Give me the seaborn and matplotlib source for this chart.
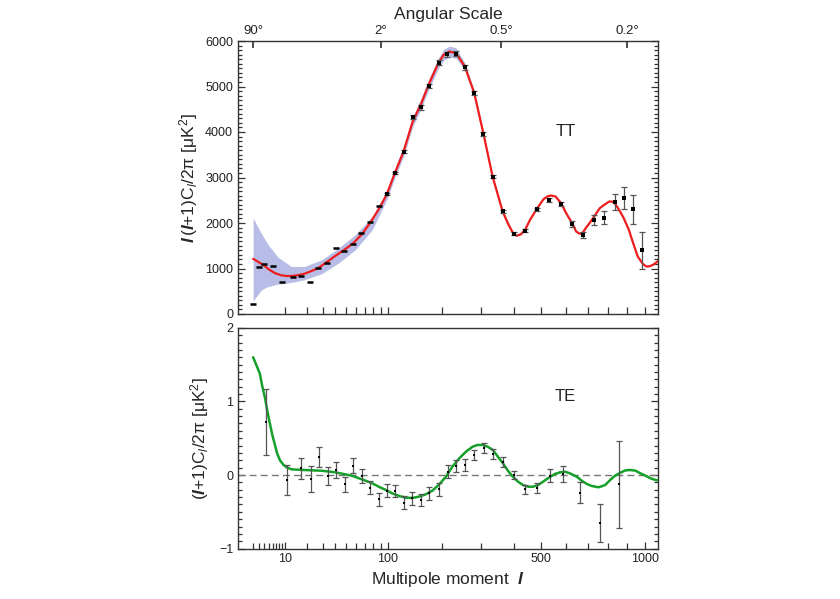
import numpy as np
import matplotlib
matplotlib.use("Agg")
import matplotlib.pyplot as plt
from matplotlib.ticker import FixedLocator, NullFormatter, MultipleLocator
import seaborn as sns
import pandas as pd

# ---------------- data ----------------
# TT model curve
tt_model_l = [2, 3, 4, 5, 6.6, 8.6, 10.5, 12.4, 15, 18.5, 22, 27, 33, 40, 48, 57, 66.8, 76,
              87.6, 98.5, 111, 125, 141, 157, 173, 192, 204, 217, 233, 255, 280, 306, 333,
              364, 383, 400, 410, 425, 440, 458, 482, 509, 525, 539, 557, 580, 598, 613, 628,
              646, 660, 673, 690, 710, 730, 758, 780, 806, 820, 833, 857, 882, 910, 931, 960,
              990, 1010, 1030, 1050, 1100]
tt_model_d = [1213, 1130, 1059, 980, 899, 850, 835, 835, 850, 883, 934, 1009, 1141, 1279, 1411,
              1558, 1763, 1998, 2305, 2620, 3097, 3565, 4226, 4627, 5073, 5510, 5697, 5769,
              5733, 5440, 4855, 3954, 3015, 2253, 1960, 1755, 1719, 1750, 1850, 2070, 2300,
              2525, 2585, 2604, 2582, 2440, 2253, 2120, 2000, 1813, 1770, 1763, 1888, 2010,
              2143, 2327, 2400, 2473, 2470, 2437, 2290, 2108, 1851, 1594, 1264, 1097, 1044,
              1050, 1081, 1213]

# cosmic-variance band
band_l = [2, 2.5, 3.4, 4.8, 7.5, 12.4, 18.5, 29.3, 42.6, 59, 79, 99.8, 111, 125, 141, 157,
          173, 192, 204, 217, 233, 255, 280, 306, 333, 364, 400]
band_hi = [2108, 1970, 1765, 1525, 1250, 1044, 1044, 1191, 1448, 1741, 2143, 2730, 3200, 3675,
           4340, 4740, 5190, 5625, 5815, 5890, 5850, 5520, 4915, 4004, 3055, 2288, 1785]
band_lo = [290, 385, 532, 604, 657, 692, 752, 884, 1119, 1411, 1851, 2547, 2995, 3455, 4115,
           4517, 4960, 5395, 5580, 5650, 5620, 5360, 4795, 3904, 2975, 2218, 1725]

# TT measurements, low multipoles (no bars)
tt_low_l = [2, 3, 4, 6, 9, 12.9, 16.9, 22, 27.1, 33.1, 40.4, 48, 56.3, 65.4, 76.2, 87.6]
tt_low_d = [218, 1031, 1097, 1059, 714, 811, 840, 714, 1009, 1125, 1440, 1382, 1536, 1778,
            2011, 2363]
# TT measurements with error bars
tt_l = [98.5, 111, 125.4, 141.2, 156.8, 173.4, 192.5, 212, 233, 254.6, 279.7, 305.9, 333.5,
        364, 400.3, 439, 482, 529, 580, 628, 678, 730, 780, 833, 882, 931, 983]
tt_d = [2635, 3097, 3565, 4334, 4539, 5015, 5527, 5712, 5725, 5418, 4855, 3954, 3015, 2253,
        1769, 1835, 2297, 2503, 2415, 1976, 1741, 2070, 2114, 2459, 2547, 2297, 1396]
tt_err = [30, 30, 35, 40, 45, 50, 55, 55, 55, 50, 45, 40, 35, 30, 30, 30, 35, 40, 45, 73, 60,
          103, 139, 180, 242, 315, 413]

# TE model curve
te_model_l = [2, 2.5, 3.07, 3.5, 4.07, 4.6, 5.25, 5.9, 6.6, 7.3, 8.15, 9.3, 10.5, 12.4, 18.5,
              29.3, 39.8, 55.6, 70.5, 79, 87.6, 97.6, 106.9, 118, 128.8, 140, 152.9, 166,
              179.6, 194, 209, 224, 241, 258, 275.7, 289, 303.7, 318, 333.5, 349, 365, 381,
              397.6, 415, 432.6, 451, 469, 488, 507, 526, 554.5, 576, 596.8, 618, 648.6, 671,
              695, 718, 751.8, 785, 810, 836, 863.6, 891, 918.6, 947, 975, 1005, 1035, 1066,
              1100]
te_model_v = [1.60, 1.49, 1.38, 1.22, 1.06, 0.88, 0.70, 0.54, 0.41, 0.29, 0.20, 0.14, 0.105,
              0.077, 0.068, 0.058, 0.037, -0.01, -0.077, -0.113, -0.16, -0.204, -0.249, -0.285,
              -0.308, -0.312, -0.294, -0.262, -0.213, -0.127, -0.023, 0.113, 0.227, 0.317,
              0.385, 0.408, 0.408, 0.385, 0.34, 0.249, 0.159, 0.058, -0.023, -0.091, -0.136,
              -0.159, -0.159, -0.136, -0.091, -0.045, 0.014, 0.036, 0.045, 0.023, -0.023,
              -0.077, -0.122, -0.149, -0.167, -0.136, -0.068, -0.009, 0.031, 0.063, 0.068,
              0.059, 0.023, -0.009, -0.045, -0.068, -0.077]

# TE measurements
te_l = [4.44, 10.5, 17, 22.4, 27.7, 33.8, 40.6, 49, 57, 66.8, 76.7, 87.6, 99.8, 112, 126,
        140.6, 156, 173, 192.5, 212.8, 233.5, 255.6, 279.7, 306, 334.5, 366, 400, 439, 482,
        534, 589.5, 663, 757, 858]
te_v = [0.716, -0.068, 0.09, -0.059, 0.24, -0.014, 0.068, -0.127, 0.127, -0.014, -0.172,
        -0.33, -0.217, -0.213, -0.376, -0.317, -0.34, -0.249, -0.195, 0.045, 0.122, 0.14,
        0.27, 0.371, 0.285, 0.181, 0.0, -0.195, -0.181, -0.009, 0.014, -0.24, -0.648, -0.127]
te_err = [0.448, 0.204, 0.145, 0.177, 0.136, 0.127, 0.109, 0.104, 0.102, 0.09, 0.084, 0.086,
          0.088, 0.082, 0.084, 0.086, 0.086, 0.086, 0.084, 0.086, 0.086, 0.079, 0.072, 0.068,
          0.066, 0.068, 0.059, 0.063, 0.068, 0.09, 0.113, 0.147, 0.256, 0.593]

top_tick_l = [2, 90, 360, 900]
top_tick_labels = ["90°", "2°", "0.5°", "0.2°"]
bottom_tick_l = [10, 100, 500, 1000]
bottom_tick_labels = ["10", "100", "500", "1000"]
te_yticks = [-1, 0, 1, 2]
te_ytick_labels = ["−1", "0", "1", "2"]

# ---------------- style ----------------
sns.set_theme(style="ticks")
plt.rcParams["font.family"] = ["Liberation Sans", "DejaVu Sans"]
plt.rcParams["mathtext.fontset"] = "custom"
plt.rcParams["mathtext.rm"] = "Liberation Sans"
plt.rcParams["mathtext.it"] = "Liberation Sans:italic"
plt.rcParams["mathtext.bf"] = "Liberation Sans:bold"
plt.rcParams["mathtext.bfit"] = "Liberation Sans:italic:bold"

def fwd(x):
    x = np.asarray(x, dtype=float)
    return np.sign(x) * np.abs(x) ** 0.4

def inv(u):
    u = np.asarray(u, dtype=float)
    return np.sign(u) * np.abs(u) ** 2.5

XLIM = (0.5, 1080)
W, H = 840, 599
fig = plt.figure(figsize=(W / 100, H / 100), dpi=100)
fig.patch.set_facecolor("white")

ax1 = fig.add_axes([238 / W, 1 - 314 / H, 420 / W, 273 / H])
ax2 = fig.add_axes([238 / W, 1 - 548.6 / H, 420 / W, 220.8 / H])

spine_col = "#333333"
for ax in (ax1, ax2):
    ax.set_xscale("function", functions=(fwd, inv))
    ax.set_xlim(*XLIM)
    for s in ax.spines.values():
        s.set_color(spine_col)
        s.set_linewidth(1.0)
    ax.tick_params(which="both", direction="in", color=spine_col, width=0.9,
                   labelsize=9, labelcolor="#222222")
    ax.tick_params(which="major", length=5)
    ax.tick_params(which="minor", length=3)

# ---------------- top panel: TT ----------------
ax1.fill_between(band_l, band_lo, band_hi, color="#b7bde6", linewidth=0, zorder=1)
df_tt = pd.DataFrame({"l": tt_model_l, "d": tt_model_d})
sns.lineplot(data=df_tt, x="l", y="d", ax=ax1, color="#ee1c1c", linewidth=1.6,
             sort=False, zorder=3)
ax1.errorbar(tt_l, tt_d, yerr=tt_err, fmt="none", ecolor="#555555",
             elinewidth=0.9, capsize=2.5, capthick=0.9, zorder=4)
ax1.plot(tt_l, tt_d, linestyle="none", marker="s", ms=2.3, mew=0, color="black", zorder=5)
ax1.plot(tt_low_l, tt_low_d, linestyle="none", marker="_", ms=4.5, mew=1.8, color="black",
         zorder=4)
ax1.set_ylim(0, 6000)
ax1.yaxis.set_major_locator(MultipleLocator(1000))
ax1.yaxis.set_minor_locator(MultipleLocator(100))
ax1.set_xticks([10, 100, 1000])
ax1.xaxis.set_minor_locator(FixedLocator(list(range(20, 100, 10)) + list(range(200, 1000, 100))))
ax1.xaxis.set_major_formatter(NullFormatter())
ax1.xaxis.set_minor_formatter(NullFormatter())
ax1.tick_params(axis="x", which="both", length=5)
ax1.tick_params(axis="y", which="both", right=True, left=True)
ax1.tick_params(axis="x", which="both", top=False)
ax1.set_xlabel("")
ax1.set_ylabel(r"$\mathbfit{l}\,(\mathbfit{l}$+1)C$_{\mathit{l}}$/2π [μK$^{2}$]", fontsize=12.5,
               labelpad=4)
ax1.text(600, 4000, "TT", fontsize=12, ha="center", va="center", color="#222222")

# top angular-scale axis
axt = ax1.twiny()
axt.set_xscale("function", functions=(fwd, inv))
axt.set_xlim(*XLIM)
axt.set_xticks(top_tick_l)
axt.set_xticklabels(top_tick_labels)
axt.xaxis.set_minor_locator(FixedLocator([]))
axt.tick_params(axis="x", which="major", direction="in", length=5, color=spine_col,
                labelsize=9.5, pad=3, labelcolor="#222222")
axt.set_xlabel("Angular Scale", fontsize=12.5, labelpad=4)
for s in axt.spines.values():
    s.set_visible(False)

# ---------------- bottom panel: TE ----------------
ax2.axhline(0, color="#777777", linewidth=1.0, linestyle=(0, (5, 3)), zorder=1)
df_te = pd.DataFrame({"l": te_model_l, "v": te_model_v})
sns.lineplot(data=df_te, x="l", y="v", ax=ax2, color="#15a02a", linewidth=1.8,
             sort=False, zorder=3)
ax2.errorbar(te_l, te_v, yerr=te_err, fmt="none", ecolor="#555555",
             elinewidth=0.9, capsize=2.5, capthick=0.9, zorder=4)
ax2.plot(te_l, te_v, linestyle="none", marker="s", ms=2.0, mew=0, color="black", zorder=5)
ax2.set_ylim(-1, 2)
ax2.set_yticks(te_yticks)
ax2.set_yticklabels(te_ytick_labels)
ax2.yaxis.set_minor_locator(MultipleLocator(0.1))
ax2.set_xticks(bottom_tick_l)
ax2.set_xticklabels(bottom_tick_labels)
ax2.xaxis.set_minor_locator(FixedLocator(list(range(2, 10)) + list(range(20, 100, 10)) +
                                         [200, 300, 400, 600, 700, 800, 900]))
ax2.xaxis.set_minor_formatter(NullFormatter())
ax2.tick_params(axis="y", which="both", right=True, left=True)
ax2.tick_params(axis="x", which="both", top=False)
ax2.tick_params(axis="x", which="minor", length=4)
ax2.set_xlabel(r"Multipole moment  $\mathbfit{l}$", fontsize=12.5, labelpad=3)
ax2.set_ylabel(r"($\mathbfit{l}$+1)C$_{\mathit{l}}$/2π [μK$^{2}$]", fontsize=12.5, labelpad=6)
ax2.text(600, 1.07, "TE", fontsize=12, ha="center", va="center", color="#222222")

fig.savefig("out.png", dpi=100, facecolor="white")
